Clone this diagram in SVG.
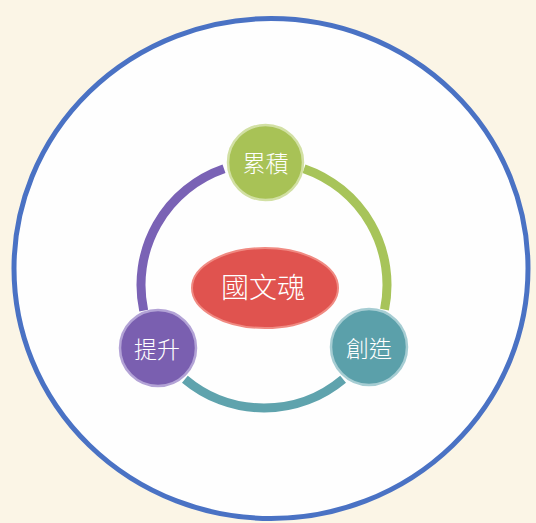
<svg xmlns="http://www.w3.org/2000/svg" width="536" height="523" viewBox="0 0 536 523">
  <style>
    .arc { fill: none; stroke-width: 9; stroke-linecap: butt; }
    .node { stroke-width: 2.5; }
    .lbl { font-family: "Noto Sans CJK TC", "Noto Sans CJK SC", sans-serif; fill: #ffffff; text-anchor: middle; dominant-baseline: central; font-weight: 300; }
  </style>
  <rect x="0" y="0" width="536" height="523" fill="#fbf5e6"/>
  <ellipse id="outer" cx="271" cy="268.5" rx="257" ry="250" fill="#fefefe" stroke="#4a72c4" stroke-width="5"/>
  <g id="connectors">
    <path class="arc" stroke="#7a62b5" d="M143.7,310.6 A123,123 0 0 1 224,168.7"/>
    <path class="arc" stroke="#a7c45a" d="M304,168.7 A123,123 0 0 1 384.5,309.7"/>
    <path class="arc" stroke="#5fa3ad" d="M343.1,379.2 A123,123 0 0 1 184.9,379.2"/>
  </g>
  <g id="center">
    <ellipse cx="265" cy="288" rx="73" ry="40" fill="#e0534f" stroke="#f08a82" stroke-width="2"/>
    <text class="lbl" x="263" y="286" font-size="28">國文魂</text>
  </g>
  <g id="node-top">
    <circle class="node" cx="265.5" cy="162.5" r="37.5" fill="#a8c256" stroke="#d2e0a4"/>
    <text class="lbl" x="265.5" y="162" font-size="23">累積</text>
  </g>
  <g id="node-left">
    <circle class="node" cx="158" cy="348" r="38" fill="#7a5fb0" stroke="#b3a3d6"/>
    <text class="lbl" x="157" y="348" font-size="23">提升</text>
  </g>
  <g id="node-right">
    <circle class="node" cx="369" cy="347" r="38" fill="#5ba0aa" stroke="#a6cdd3"/>
    <text class="lbl" x="369" y="347" font-size="23">創造</text>
  </g>
</svg>
